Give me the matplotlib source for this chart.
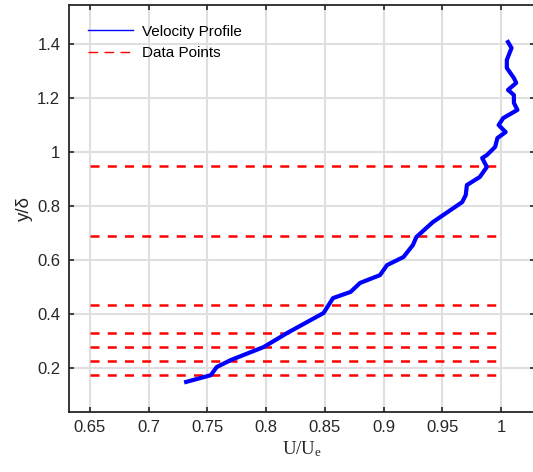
import matplotlib
matplotlib.use("Agg")
import matplotlib.pyplot as plt
from matplotlib.lines import Line2D

# velocity profile
u_ratio = [0.732, 0.753, 0.758, 0.770, 0.798, 0.818, 0.849, 0.857, 0.872, 0.880,
           0.897, 0.903, 0.917, 0.925, 0.928, 0.942, 0.967, 0.970, 0.971, 0.982,
           0.988, 0.984, 0.988, 0.995, 0.997, 1.004, 0.998, 1.002, 1.014, 1.011,
           1.011, 1.006, 1.013, 1.011, 1.005, 1.005, 1.009, 1.006]
y_delta = [0.150, 0.175, 0.205, 0.231, 0.279, 0.331, 0.405, 0.460, 0.483, 0.516,
           0.545, 0.582, 0.612, 0.656, 0.686, 0.741, 0.815, 0.841, 0.878, 0.908,
           0.945, 0.978, 0.989, 1.019, 1.052, 1.074, 1.100, 1.126, 1.156, 1.182,
           1.211, 1.230, 1.256, 1.274, 1.311, 1.341, 1.385, 1.407]

# measurement heights
data_y = [0.949, 0.690, 0.434, 0.332, 0.278, 0.228, 0.177]
data_x_range = [0.65, 1.0]

x_ticks = [0.65, 0.7, 0.75, 0.8, 0.85, 0.9, 0.95, 1.0]
x_tick_labels = ["0.65", "0.7", "0.75", "0.8", "0.85", "0.9", "0.95", "1"]
y_ticks = [0.2, 0.4, 0.6, 0.8, 1.0, 1.2, 1.4]
y_tick_labels = ["0.2", "0.4", "0.6", "0.8", "1", "1.2", "1.4"]


def main():
    plt.rcParams["font.family"] = ["Liberation Sans", "DejaVu Sans"]
    plt.rcParams["mathtext.fontset"] = "custom"
    plt.rcParams["mathtext.rm"] = "Liberation Serif"
    dark = "#262626"

    fig = plt.figure(figsize=(5.33, 4.72), dpi=100)
    ax = fig.add_axes([0.1289, 0.1278, 0.8749, 0.8616])

    ax.hlines(data_y, data_x_range[0], data_x_range[1], colors="#ff0000",
              linewidth=1.8, linestyles=(0, (3.6, 3.3)))
    ax.plot(u_ratio, y_delta, color="#0000ff", linewidth=3,
            solid_joinstyle="round")

    ax.set_xlim(0.632, 1.029)
    ax.set_ylim(0.04, 1.544)
    ax.set_xticks(x_ticks)
    ax.set_xticklabels(x_tick_labels)
    ax.set_yticks(y_ticks)
    ax.set_yticklabels(y_tick_labels)

    ax.grid(True, color="#dfdfdf", linewidth=1.5)
    ax.set_axisbelow(True)
    ax.tick_params(direction="in", top=True, right=True, length=3.6, width=1.2,
                   color=dark, labelcolor=dark, labelsize=12, pad=6)
    for s in ax.spines.values():
        s.set_color(dark)
        s.set_linewidth(1.3)

    ax.set_xlabel(r"$\mathrm{U/U_e}$", fontsize=13.5, color=dark, labelpad=3)
    ax.set_ylabel("y/δ", fontsize=13.5, color=dark, labelpad=3)

    handles = [Line2D([], [], color="#0000ff", linewidth=1),
               Line2D([], [], color="#ff0000", linewidth=1, linestyle=(0, (7, 4.5)))]
    ax.legend(handles, ["Velocity Profile", "Data Points"], loc="upper left",
              bbox_to_anchor=(0.041, 0.952), frameon=False, fontsize=11,
              borderaxespad=0, borderpad=0, handlelength=2.95,
              handletextpad=0.6, labelspacing=0.5)

    fig.savefig("out.png", dpi=100)


if __name__ == '__main__':
    main()
